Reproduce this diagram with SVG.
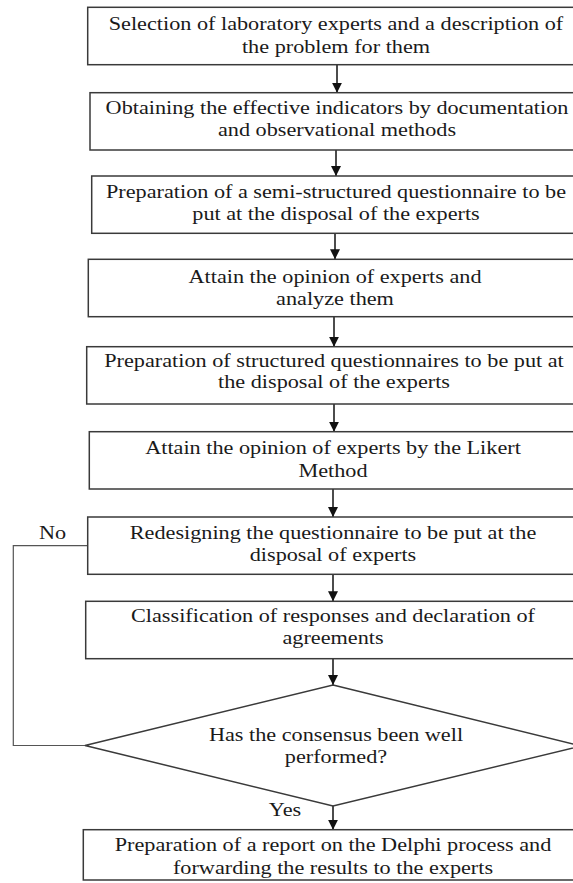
<svg xmlns="http://www.w3.org/2000/svg" width="573" height="883" viewBox="0 0 573 883">
<style>
.box{fill:#fff;stroke:#3a3a3a;stroke-width:1.5}
.t{font-family:"Liberation Serif","Times New Roman",serif;font-size:19.5px;fill:#1a1a1a;text-anchor:middle}
.c{stroke:#111;stroke-width:1.5;fill:none}
.fb{stroke:#555;stroke-width:1.2;fill:none}
</style>
<defs>
<marker id="ah" markerUnits="userSpaceOnUse" markerWidth="10" markerHeight="10" refX="10" refY="5" orient="auto">
<path d="M0,0 L10,5 L0,10 z" fill="#111"/>
</marker>
</defs>
<rect width="573" height="883" fill="#fff"/>
<g id="connectors">
<line class="c" x1="337" y1="64.7" x2="337" y2="92.7" marker-end="url(#ah)"/>
<line class="c" x1="336" y1="150" x2="336" y2="176" marker-end="url(#ah)"/>
<line class="c" x1="335" y1="233.3" x2="335" y2="259.3" marker-end="url(#ah)"/>
<line class="c" x1="334" y1="316.7" x2="334" y2="346.7" marker-end="url(#ah)"/>
<line class="c" x1="334" y1="404" x2="334" y2="431.7" marker-end="url(#ah)"/>
<line class="c" x1="333" y1="489" x2="333" y2="517" marker-end="url(#ah)"/>
<line class="c" x1="333" y1="574.3" x2="333" y2="601.3" marker-end="url(#ah)"/>
<line class="c" x1="333" y1="658.7" x2="333" y2="685" marker-end="url(#ah)"/>
<line class="c" x1="333" y1="806" x2="333" y2="829.7" marker-end="url(#ah)"/>
<polyline class="fb" points="87.7,545.7 13.3,545.7 13.3,745.5 85,745.5"/>
<text class="t" transform="translate(52.5,539) scale(1.14,1)">No</text>
<text class="t" transform="translate(285,816) scale(1.14,1)">Yes</text>
</g>
<g id="n1">
<rect class="box" x="87.7" y="7.3" width="500" height="57.4"/>
<text class="t" transform="translate(336,29.5) scale(1.14,1)">Selection of laboratory experts and a description of</text>
<text class="t" transform="translate(336,52.5) scale(1.14,1)">the problem for them</text>
</g>
<g id="n2">
<rect class="box" x="90" y="92.7" width="500" height="57.3"/>
<text class="t" transform="translate(337,114) scale(1.14,1)">Obtaining the effective indicators by documentation</text>
<text class="t" transform="translate(337,136) scale(1.14,1)">and observational methods</text>
</g>
<g id="n3">
<rect class="box" x="91.7" y="176" width="500" height="57.3"/>
<text class="t" transform="translate(336,198) scale(1.14,1)">Preparation of a semi-structured questionnaire to be</text>
<text class="t" transform="translate(336,220) scale(1.14,1)">put at the disposal of the experts</text>
</g>
<g id="n4">
<rect class="box" x="88.3" y="259.3" width="500" height="57.4"/>
<text class="t" transform="translate(335,283) scale(1.14,1)">Attain the opinion of experts and</text>
<text class="t" transform="translate(335,305) scale(1.14,1)">analyze them</text>
</g>
<g id="n5">
<rect class="box" x="86.7" y="346.7" width="500" height="57.3"/>
<text class="t" transform="translate(334,366.7) scale(1.14,1)">Preparation of structured questionnaires to be put at</text>
<text class="t" transform="translate(334,388.3) scale(1.14,1)">the disposal of the experts</text>
</g>
<g id="n6">
<rect class="box" x="89.3" y="431.7" width="500" height="57.3"/>
<text class="t" transform="translate(333,454) scale(1.14,1)">Attain the opinion of experts by the Likert</text>
<text class="t" transform="translate(333,476.7) scale(1.14,1)">Method</text>
</g>
<g id="n7">
<rect class="box" x="87.7" y="517" width="500" height="57.3"/>
<text class="t" transform="translate(333,539.3) scale(1.14,1)">Redesigning the questionnaire to be put at the</text>
<text class="t" transform="translate(333,560.5) scale(1.14,1)">disposal of experts</text>
</g>
<g id="n8">
<rect class="box" x="85.7" y="601.3" width="500" height="57.4"/>
<text class="t" transform="translate(333,622.3) scale(1.14,1)">Classification of responses and declaration of</text>
<text class="t" transform="translate(333,644) scale(1.14,1)">agreements</text>
</g>
<g id="n9">
<polygon class="box" points="333,685 581,746 333,806 85,745.5"/>
<text class="t" transform="translate(336,741.3) scale(1.14,1)">Has the consensus been well</text>
<text class="t" transform="translate(336,763) scale(1.14,1)">performed?</text>
</g>
<g id="n10">
<rect class="box" x="83.3" y="829.7" width="500" height="50.3"/>
<text class="t" transform="translate(333,851) scale(1.14,1)">Preparation of a report on the Delphi process and</text>
<text class="t" transform="translate(333,873.5) scale(1.14,1)">forwarding the results to the experts</text>
</g>
</svg>
